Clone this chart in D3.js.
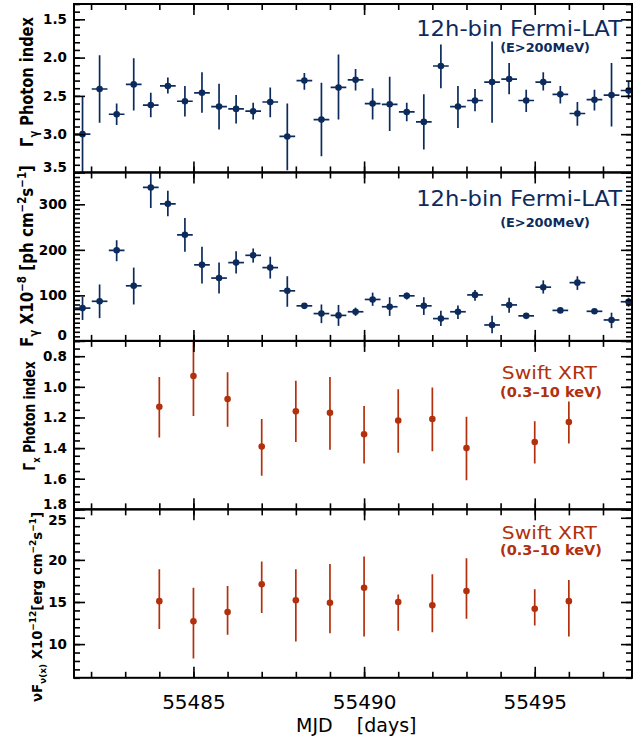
<!DOCTYPE html>
<html>
<head>
<meta charset="utf-8">
<script src="https://cdn.jsdelivr.net/npm/d3@7"></script>
<style>
  body { margin: 0; background: #fff; }
  text { font-family: "DejaVu Sans", sans-serif; }
</style>
</head>
<body>
<div id="chart"></div>
<script>
// 12h bins from Fermi-LAT
const mjdFermi = [55481.75, 55482.25, 55482.75, 55483.25, 55483.75, 55484.25, 55484.75, 55485.25,
  55485.75, 55486.25, 55486.75, 55487.25, 55487.75, 55488.25, 55488.75, 55489.25, 55489.75,
  55490.25, 55490.75, 55491.25, 55491.75, 55492.25, 55492.75, 55493.25, 55493.75, 55494.25,
  55494.75, 55495.25, 55495.75, 55496.25, 55496.75, 55497.25, 55497.75];

const fermiIndex   = [3.00, 2.41, 2.74, 2.35, 2.62, 2.37, 2.57, 2.46, 2.64, 2.67, 2.70, 2.58, 3.03, 2.30, 2.81, 2.39, 2.29,
  2.60, 2.61, 2.71, 2.84, 2.11, 2.64, 2.56, 2.32, 2.28, 2.56, 2.32, 2.48, 2.73, 2.55, 2.49, 2.43];
const fermiIndexLo = [2.50, 1.97, 2.60, 2.01, 2.46, 2.26, 2.37, 2.19, 2.34, 2.49, 2.59, 2.39, 2.60, 2.20, 2.33, 1.96, 2.15,
  2.40, 2.25, 2.59, 2.48, 1.83, 2.37, 2.41, 1.79, 2.07, 2.42, 2.19, 2.37, 2.58, 2.42, 2.07, 2.31];
const fermiIndexHi = [3.60, 2.85, 2.88, 2.69, 2.78, 2.47, 2.77, 2.72, 2.94, 2.86, 2.81, 2.78, 3.47, 2.42, 3.29, 2.81, 2.43,
  2.81, 2.96, 2.83, 3.20, 2.40, 2.92, 2.70, 2.85, 2.48, 2.71, 2.43, 2.60, 2.89, 2.69, 2.90, 2.54];

const fermiFlux   = [72, 87, 199, 121, 337, 301, 233, 167, 138, 172, 188, 161, 110, 77, 60, 56, 64,
  91, 75, 99, 77, 49, 64, 101, 35, 79, 55, 118, 67, 128, 65, 46, 86];
const fermiFluxLo = [46, 50, 175, 80, 292, 274, 196, 126, 104, 148, 172, 137, 75, 70, 39, 33, 55,
  77, 55, 91, 57, 33, 48, 88, 17, 62, 50, 104, 62, 112, 60, 28, 75];
const fermiFluxHi = [97, 124, 221, 161, 372, 330, 270, 207, 172, 197, 203, 185, 142, 82, 80, 79, 73,
  106, 96, 106, 96, 66, 78, 112, 55, 95, 61, 133, 71, 142, 70, 62, 95];

// Swift XRT pointings
const mjdSwift = [55484, 55485, 55486, 55487, 55488, 55489, 55490, 55491, 55492, 55493, 55495, 55496];
const swiftIndex   = [1.13, 0.93, 1.08, 1.39, 1.16, 1.17, 1.31, 1.22, 1.21, 1.40, 1.36, 1.23];
const swiftIndexLo = [0.935, 0.67, 0.905, 1.21, 0.96, 0.935, 1.125, 1.015, 1.005, 1.195, 1.225, 1.095];
const swiftIndexHi = [1.33, 1.19, 1.26, 1.58, 1.36, 1.41, 1.50, 1.43, 1.42, 1.61, 1.50, 1.37];

const swiftFlux   = [15.1, 12.7, 13.8, 17.1, 15.2, 14.9, 16.7, 15.0, 14.6, 16.3, 14.2, 15.1];
const swiftFluxLo = [11.8, 8.3, 11.1, 13.7, 10.3, 11.3, 10.9, 11.6, 11.4, 13.0, 12.2, 10.9];
const swiftFluxHi = [18.9, 16.7, 16.9, 19.8, 18.9, 19.5, 20.4, 15.9, 18.3, 20.2, 16.5, 17.6];

// tick labels
const xMajor = [55485, 55490, 55495];
const p1Ticks = [1.5, 2.0, 2.5, 3.0, 3.5];
const p2Ticks = [0, 100, 200, 300];
const p3Ticks = [0.8, 1.0, 1.2, 1.4, 1.6, 1.8];
const p4Ticks = [10, 15, 20, 25];

const blue = "#0c2b5c";
const red = "#b3300c";

const W = 637, H = 740;
const left = 74, right = 632, top0 = 4, panelH = 168.45;

const svg = d3.select("#chart").append("svg")
  .attr("width", W)
  .attr("height", H);

const x = d3.scaleLinear().domain([55481.5, 55497.85]).range([left, right]);

// builds text with sub/superscript pieces
function richText(sel, parts, size) {
  let shift = 0;
  parts.forEach(([t, kind]) => {
    const target = kind === "sub" ? size * 0.3 : kind === "sup" ? -size * 0.42 : 0;
    sel.append("tspan")
      .attr("dy", target - shift)
      .style("font-size", (kind === "n" ? size : size * 0.68) + "px")
      .text(t);
    shift = target;
  });
}

// squeeze a text horizontally so it spans len pixels
function fitText(t, len, tx, ty, rot) {
  const w = t.node().getBBox().width;
  t.attr("transform", `translate(${tx},${ty})${rot ? " rotate(-90)" : ""} scale(${len / w},1)`);
}

const panels = [
  { domain: [1.3, 3.5], flip: true, ticks: p1Ticks, minor: d3.range(1.3, 3.51, 0.1), fmt: d3.format(".1f"),
    xs: mjdFermi, v: fermiIndex, lo: fermiIndexLo, hi: fermiIndexHi, color: blue, hbar: 0.23,
    title: [["Γ", "n"], ["γ", "sub"], [" Photon index", "n"]], tx: 33, ty: 82, tsize: 17, tlen: 130,
    label: ["12h-bin Fermi-LAT", "(E>200MeV)"], l1: [622, 32, 206], l2: [590, 48, 90], big: 21, small: 13 },
  { domain: [0, 370], flip: false, ticks: p2Ticks, minor: d3.range(0, 371, 10), fmt: d3.format("d"),
    xs: mjdFermi, v: fermiFlux, lo: fermiFluxLo, hi: fermiFluxHi, color: blue, hbar: 0.23,
    title: [["F", "n"], ["γ", "sub"], [" X10", "n"], ["−8", "sup"], [" [ph cm", "n"], ["−2", "sup"], ["s", "n"], ["−1", "sup"], ["]", "n"]],
    tx: 33, ty: 256, tsize: 17, tlen: 182,
    label: ["12h-bin Fermi-LAT", "(E>200MeV)"], l1: [622, 33.5, 206], l2: [590, 55, 90], big: 21, small: 13 },
  { domain: [0.7, 1.8], flip: true, ticks: p3Ticks, minor: d3.range(0.7, 1.81, 0.05), fmt: d3.format(".1f"),
    xs: mjdSwift, v: swiftIndex, lo: swiftIndexLo, hi: swiftIndexHi, color: red, hbar: 0,
    title: [["Γ", "n"], ["x", "sub"], [" Photon index", "n"]], tx: 35, ty: 416, tsize: 16, tlen: 110,
    label: ["Swift XRT", "(0.3–10 keV)"], l1: [597, 38.5, 96], l2: [602, 56, 102], big: 18.5, small: 14 },
  { domain: [6, 26], flip: false, ticks: p4Ticks, minor: d3.range(6, 26.1, 1), fmt: d3.format("d"),
    xs: mjdSwift, v: swiftFlux, lo: swiftFluxLo, hi: swiftFluxHi, color: red, hbar: 0,
    title: [["νF", "n"], ["ν(x)", "sub"], [" X10", "n"], ["−12", "sup"], ["[erg cm", "n"], ["−2", "sup"], ["s", "n"], ["−1", "sup"], ["]", "n"]],
    tx: 42, ty: 607, tsize: 14, tlen: 190,
    label: ["Swift XRT", "(0.3–10 keV)"], l1: [597, 30, 96], l2: [602, 46, 102], big: 18.5, small: 14 }
];

panels.forEach((p, i) => {
  const top = top0 + i * panelH, bottom = top + panelH;
  const y = d3.scaleLinear().domain(p.domain).range(p.flip ? [top, bottom] : [bottom, top]);

  svg.append("clipPath").attr("id", "clip" + i)
    .append("rect").attr("x", left).attr("y", top).attr("width", right - left).attr("height", panelH);

  const g = svg.append("g").attr("clip-path", `url(#clip${i})`);
  const idx = d3.range(p.v.length);

  // vertical error bars
  g.selectAll(".ey").data(idx).join("line")
    .attr("x1", d => x(p.xs[d])).attr("x2", d => x(p.xs[d]))
    .attr("y1", d => y(p.lo[d])).attr("y2", d => y(p.hi[d]))
    .attr("stroke", p.color).attr("stroke-width", 1.7);

  // horizontal bin width bars (fermi only)
  if (p.hbar > 0) {
    g.selectAll(".ex").data(idx).join("line")
      .attr("x1", d => x(p.xs[d] - p.hbar)).attr("x2", d => x(p.xs[d] + p.hbar))
      .attr("y1", d => y(p.v[d])).attr("y2", d => y(p.v[d]))
      .attr("stroke", p.color).attr("stroke-width", 1.7);
  }

  g.selectAll("circle").data(idx).join("circle")
    .attr("cx", d => x(p.xs[d])).attr("cy", d => y(p.v[d]))
    .attr("r", 3.3).attr("fill", p.color);

  // axes - ticks pointing inward on all four sides
  const axes = [
    [d3.axisLeft(y).tickValues(p.ticks).tickSize(-11).tickPadding(7).tickFormat(p.fmt), left, 0],
    [d3.axisLeft(y).tickValues(p.minor).tickSize(-6).tickFormat(""), left, 0],
    [d3.axisRight(y).tickValues(p.ticks).tickSize(-11).tickFormat(""), right, 0],
    [d3.axisRight(y).tickValues(p.minor).tickSize(-6).tickFormat(""), right, 0],
    [d3.axisBottom(x).tickValues(xMajor).tickSize(11).tickFormat(""), 0, top],
    [d3.axisBottom(x).ticks(17).tickSize(6).tickFormat(""), 0, top],
    [d3.axisTop(x).tickValues(xMajor).tickSize(11).tickFormat(""), 0, bottom],
    [d3.axisTop(x).ticks(17).tickSize(6).tickFormat(""), 0, bottom]
  ];
  axes.forEach(([ax, tx, ty]) => {
    const a = svg.append("g").attr("transform", `translate(${tx},${ty})`).call(ax.tickSizeOuter(0));
    a.select(".domain").remove();
    a.selectAll("line").attr("stroke", "#000").attr("stroke-width", 1.6);
    // labels sitting on a panel edge are nudged so neighbouring panels don't collide
    a.selectAll("text")
      .attr("fill", "#000")
      .style("font-size", "13.5px")
      .style("font-weight", "bold")
      .attr("transform", d => Math.abs(y(d) - bottom) < 2 ? "translate(0,-5.5)"
        : (y(d) - top < 10 ? "translate(0,2)" : null));
  });

  svg.append("rect")
    .attr("x", left).attr("y", top).attr("width", right - left).attr("height", panelH)
    .attr("fill", "none").attr("stroke", "#000").attr("stroke-width", 2);

  // rotated y title
  const t = svg.append("text")
    .attr("text-anchor", "middle")
    .style("font-weight", "bold")
    .attr("fill", "#000");
  richText(t, p.title, p.tsize);
  fitText(t, p.tlen, p.tx, p.ty, true);

  // instrument label
  const t1 = svg.append("text")
    .attr("text-anchor", "end")
    .attr("fill", p.color)
    .style("font-size", p.big + "px")
    .text(p.label[0]);
  fitText(t1, p.l1[2], p.l1[0], top + p.l1[1], false);
  const t2 = svg.append("text")
    .attr("text-anchor", "end")
    .attr("fill", p.color)
    .style("font-size", p.small + "px")
    .style("font-weight", "bold")
    .text(p.label[1]);
  fitText(t2, p.l2[2], p.l2[0], top + p.l2[1], false);

  // MJD labels on the last panel only
  if (i === panels.length - 1) {
    const xa = svg.append("g").attr("transform", `translate(0,${bottom})`)
      .call(d3.axisBottom(x).tickValues(xMajor).tickSize(0).tickPadding(17).tickFormat(d3.format("d")));
    xa.select(".domain").remove();
    xa.selectAll("text").attr("fill", "#000").style("font-size", "20px");

    svg.append("text")
      .attr("x", 296).attr("y", 732)
      .style("font-size", "19px")
      .style("white-space", "pre")
      .attr("fill", "#000")
      .text("MJD    [days]");
  }
});
</script>
</body>
</html>
